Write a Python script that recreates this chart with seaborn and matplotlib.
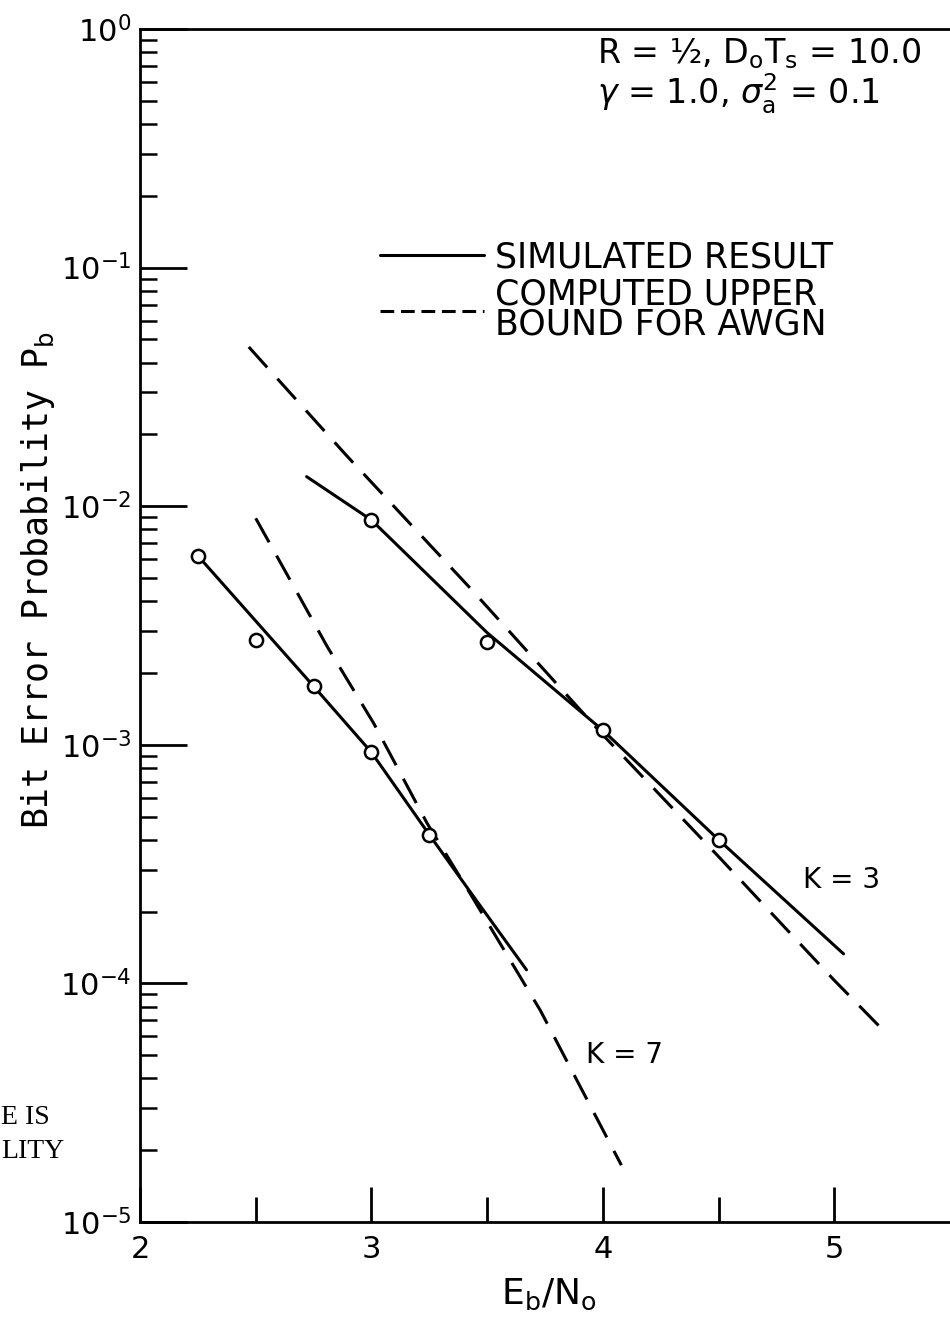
import numpy as np
import matplotlib
matplotlib.use("Agg")
import matplotlib.pyplot as plt
import seaborn as sns
from matplotlib.lines import Line2D
from matplotlib.ticker import LogLocator, NullFormatter

# ---------------- data ----------------
# K = 7 : simulated points, fitted simulated curve, computed AWGN bound
k7_marker_x = [2.25, 2.5, 2.75, 3.0, 3.25]
k7_marker_y = [6.2e-3, 2.75e-3, 1.76e-3, 9.3e-4, 4.2e-4]
k7_sim_x = [2.25, 2.75, 3.0, 3.25, 3.45, 3.67]
k7_sim_y = [6.2e-3, 1.76e-3, 9.3e-4, 4.2e-4, 2.25e-4, 1.14e-4]
k7_bound_x = [2.5, 2.81, 3.01, 3.24, 3.43, 3.73, 4.08]
k7_bound_y = [8.9e-3, 2.57e-3, 1.23e-3, 4.7e-4, 2.35e-4, 7.7e-5, 1.73e-5]

# K = 3
k3_marker_x = [3.0, 3.5, 4.0, 4.5]
k3_marker_y = [8.75e-3, 2.7e-3, 1.15e-3, 4.0e-4]
k3_sim_x = [2.72, 3.0, 3.5, 4.0, 4.5, 5.04]
k3_sim_y = [1.33e-2, 8.75e-3, 2.95e-3, 1.15e-3, 4.0e-4, 1.33e-4]
k3_bound_x = [2.47, 2.89, 3.43, 4.0, 4.5, 5.0, 5.23]
k3_bound_y = [4.65e-2, 1.64e-2, 4.5e-3, 1.1e-3, 3.4e-4, 1.03e-4, 6.1e-5]

x_ticks = [2, 3, 4, 5]
x_tick_labels = ["2", "3", "4", "5"]
x_minor_ticks = [2.5, 3.5, 4.5]
y_ticks = [1e-5, 1e-4, 1e-3, 1e-2, 1e-1, 1e0]
y_tick_labels = [r"10$^{-5}$", r"10$^{-4}$", r"10$^{-3}$",
                 r"10$^{-2}$", r"10$^{-1}$", r"10$^{0}$"]

legend_labels = ["SIMULATED RESULT", "COMPUTED UPPER\nBOUND FOR AWGN"]

# ---------------- figure ----------------
sns.set_style("white")
plt.rcParams["font.family"] = ["DejaVu Sans"]
plt.rcParams["mathtext.fontset"] = "dejavusans"
for key in ["text.color", "axes.labelcolor", "xtick.color", "ytick.color",
            "axes.edgecolor"]:
    plt.rcParams[key] = "black"

W, H = 950, 1326
fig = plt.figure(figsize=(W / 100, H / 100), dpi=100)
ax = fig.add_axes([140 / W, 1 - 1222 / H, 810 / W, (1222 - 29) / H])
ax.set_yscale("log")

LW = 2.2
DASH = (0, (9, 5))

sns.lineplot(x=k7_sim_x, y=k7_sim_y, ax=ax, color="black", lw=LW,
             sort=False, estimator=None)
sns.lineplot(x=k3_sim_x, y=k3_sim_y, ax=ax, color="black", lw=LW,
             sort=False, estimator=None)
sns.lineplot(x=k7_bound_x, y=k7_bound_y, ax=ax, color="black", lw=LW,
             linestyle=DASH, sort=False, estimator=None)
sns.lineplot(x=k3_bound_x, y=k3_bound_y, ax=ax, color="black", lw=LW,
             linestyle=DASH, sort=False, estimator=None)

for mx, my in [(k7_marker_x, k7_marker_y), (k3_marker_x, k3_marker_y)]:
    sns.scatterplot(x=mx, y=my, ax=ax, marker="o", s=90, color="white",
                    edgecolor="black", linewidth=1.8, zorder=4)

# ---------------- axes ----------------
ax.set_xlim(2, 5.5)
ax.set_ylim(1e-5, 1)
ax.set_xticks(x_ticks, x_tick_labels)
ax.set_xticks(x_minor_ticks, minor=True)
ax.set_yticks(y_ticks, y_tick_labels)
ax.yaxis.set_minor_locator(LogLocator(base=10, subs=np.arange(2, 10), numticks=30))
ax.yaxis.set_minor_formatter(NullFormatter())

ax.tick_params(axis="both", which="both", left=True, bottom=True,
               right=False, top=False, direction="in", color="black")
ax.tick_params(axis="y", which="major", length=34, width=2,
               labelsize=22, pad=6)
ax.tick_params(axis="y", which="minor", length=12, width=1.8)
ax.tick_params(axis="x", which="major", length=25, width=2,
               labelsize=22, pad=9)
ax.tick_params(axis="x", which="minor", length=18, width=2)

for side in ["left", "bottom", "top"]:
    ax.spines[side].set_visible(True)
    ax.spines[side].set_color("black")
    ax.spines[side].set_linewidth(2)
ax.spines["right"].set_visible(False)

ax.set_xlabel(r"E$_\mathrm{b}$/N$_\mathrm{o}$", fontsize=26)
ax.xaxis.set_label_coords((549 - 140) / 810, -0.046)
ax.set_ylabel("")

fig.text(38 / W, 1 - 580 / H, r"Bit Error Probability P$_\mathrm{b}$",
         rotation=90, ha="center", va="center", fontsize=25,
         family=["DejaVu Sans Mono", "DejaVu Sans"])

# parameter box
fig.text(597 / W, 1 - 36 / H, r"R = ½, D$_\mathrm{o}$T$_\mathrm{s}$ = 10.0",
         ha="left", va="top", fontsize=24)
fig.text(597 / W, 1 - 72 / H, r"$\gamma$ = 1.0, $\sigma_\mathrm{a}^2$ = 0.1",
         ha="left", va="top", fontsize=24)

# curve labels
ax.text(5.03, 2.7e-4, "K = 3", ha="center", va="center", fontsize=20)
ax.text(4.095, 5.0e-5, "K = 7", ha="center", va="center", fontsize=20)

# legend
handles = [Line2D([], [], color="black", lw=LW),
           Line2D([], [], color="black", lw=LW, linestyle=(0, (4.5, 2.2)))]
leg = fig.legend(handles, legend_labels, loc="upper left",
                 bbox_to_anchor=(380 / W, 1 - 240 / H), frameon=False,
                 fontsize=25, handlelength=3.0, handletextpad=0.3,
                 borderpad=0, borderaxespad=0, labelspacing=0.1)
for t in leg.get_texts():
    t.set_linespacing(0.85)

# text cut off at the left edge of the scanned page
fig.text(1 / W, 1 - 1117 / H, "E IS", ha="left", va="center", fontsize=20,
         family=["Liberation Serif", "DejaVu Serif"])
fig.text(1 / W, 1 - 1152 / H, "LITY", ha="left", va="center", fontsize=20,
         family=["Liberation Serif", "DejaVu Serif"])

fig.savefig("out.png", dpi=100)
